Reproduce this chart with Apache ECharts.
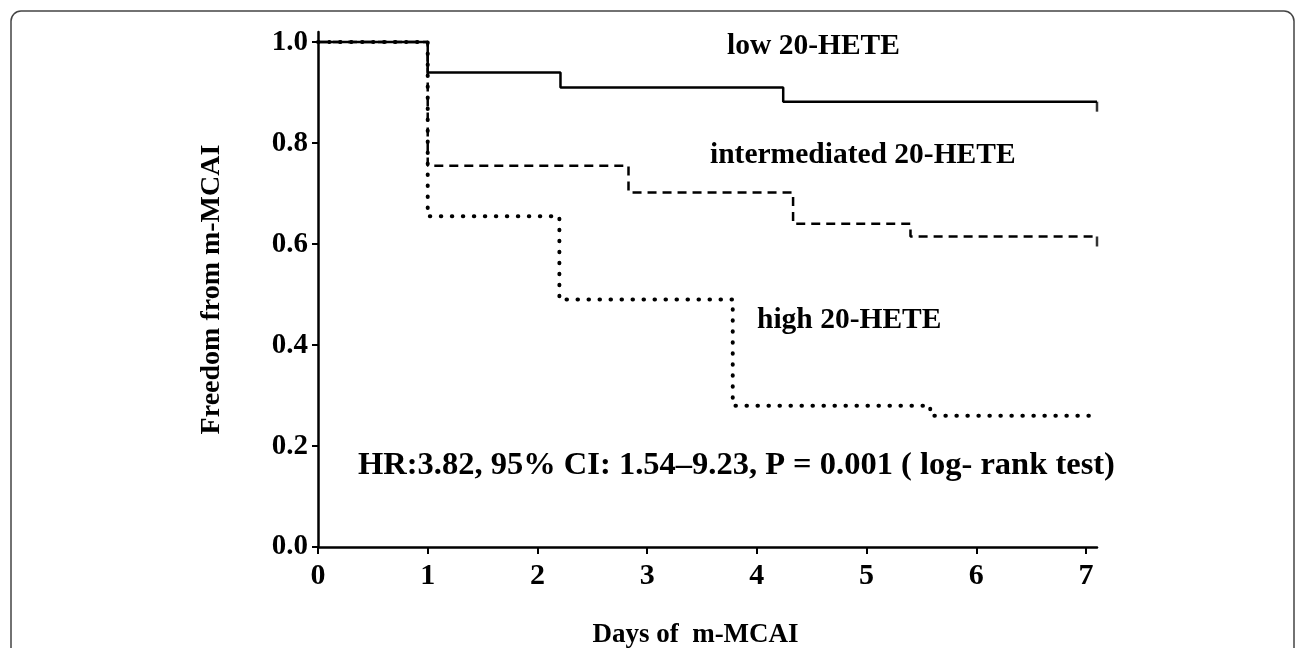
<!DOCTYPE html>
<html>
<head>
<meta charset="utf-8">
<script src="https://cdn.jsdelivr.net/npm/echarts@6/dist/echarts.min.js"></script>
<style>
html,body{margin:0;padding:0;background:#fff;}
#chart{width:1295px;height:648px;}
</style>
</head>
<body>
<div id="chart"></div>
<script>
// Kaplan-Meier step points [day, freedom]
var lowHETE = [[0, 1.0], [1.0, 0.94], [2.21, 0.91], [4.24, 0.882], [7.1, 0.882]];
var intermediatedHETE = [[0, 1.0], [1.0, 0.755], [2.83, 0.702], [4.33, 0.64], [5.40, 0.615], [7.1, 0.615]];
var highHETE = [[0, 1.0], [1.0, 0.655], [2.2, 0.49], [3.78, 0.28], [5.58, 0.26], [7.1, 0.26]];
var censored = [[7.1, 0.882], [7.1, 0.615]];
var xTicks = [0, 1, 2, 3, 4, 5, 6, 7];
var yTicks = [0, 0.2, 0.4, 0.6, 0.8, 1.0];
var xTitle = 'Days of  m-MCAI';
var yTitle = 'Freedom from m-MCAI';
var labels = ['low 20-HETE', 'intermediated 20-HETE', 'high 20-HETE'];
var statText = 'HR:3.82, 95% CI: 1.54\u20139.23, P = 0.001 ( log- rank test)';

var FONT = '"Liberation Serif", "Times New Roman", serif';
var chart = echarts.init(document.getElementById('chart'), null, {renderer: 'canvas'});

function annot(text, x, y, size) {
  return {
    type: 'text', x: x, y: y, silent: true,
    style: {text: text, fill: '#000', font: 'bold ' + size + 'px ' + FONT,
            align: 'left', verticalAlign: 'middle'}
  };
}

var option = {
  animation: false,
  backgroundColor: '#fff',
  grid: {left: 318, right: 198, top: 32, bottom: 101, containLabel: false, outerBoundsMode: 'none'},
  xAxis: {
    type: 'value', min: 0, max: 7.1,
    name: xTitle, nameLocation: 'middle', nameGap: 75,
    nameTextStyle: {fontFamily: FONT, fontWeight: 'bold', fontSize: 27, color: '#000', padding: [0, 24, 0, 0]},
    axisLine: {show: true, lineStyle: {color: '#000', width: 2.5}},
    axisTick: {show: true, length: 7, lineStyle: {color: '#000', width: 2}, customValues: xTicks},
    axisLabel: {customValues: xTicks, margin: 14, fontFamily: FONT, fontWeight: 'bold', fontSize: 30, color: '#000'},
    splitLine: {show: false}
  },
  yAxis: {
    type: 'value', min: 0, max: 1.02,
    name: yTitle, nameLocation: 'middle', nameGap: 92, nameRotate: 90,
    nameTextStyle: {fontFamily: FONT, fontWeight: 'bold', fontSize: 28, color: '#000'},
    axisLine: {show: true, lineStyle: {color: '#000', width: 2.5}},
    axisTick: {show: true, length: 6, lineStyle: {color: '#000', width: 2}, customValues: yTicks},
    axisLabel: {customValues: yTicks, margin: 10, fontFamily: FONT, fontWeight: 'bold', fontSize: 29, color: '#000',
                formatter: function (v) { return v.toFixed(1); }},
    splitLine: {show: false}
  },
  series: [
    {name: labels[0], type: 'line', step: 'end', data: lowHETE, showSymbol: false, z: 3,
     lineStyle: {color: '#000', width: 2.5, type: 'solid'}},
    {name: labels[1], type: 'line', step: 'end', data: intermediatedHETE, showSymbol: false, z: 2,
     lineStyle: {color: '#000', width: 2.5, type: [9, 6]}},
    {name: labels[2], type: 'line', step: 'end', data: highHETE, showSymbol: false, z: 2,
     lineStyle: {color: '#000', width: 4, type: [0.5, 10.5], cap: 'round'}},
    {type: 'scatter', data: censored, symbol: 'rect', symbolSize: [2.5, 10], symbolOffset: [0, 5],
     itemStyle: {color: '#000'}, z: 4}
  ],
  graphic: [
    {type: 'rect', silent: true, shape: {x: 11, y: 11, width: 1283, height: 700, r: 10},
     style: {fill: 'none', stroke: '#444', lineWidth: 1.5}},
    annot(labels[0], 727, 46, 29.5),
    annot(labels[1], 710, 155, 29.5),
    annot(labels[2], 757, 320, 29.5),
    annot(statText, 358, 466, 32.5)
  ]
};
chart.setOption(option);
</script>
</body>
</html>
